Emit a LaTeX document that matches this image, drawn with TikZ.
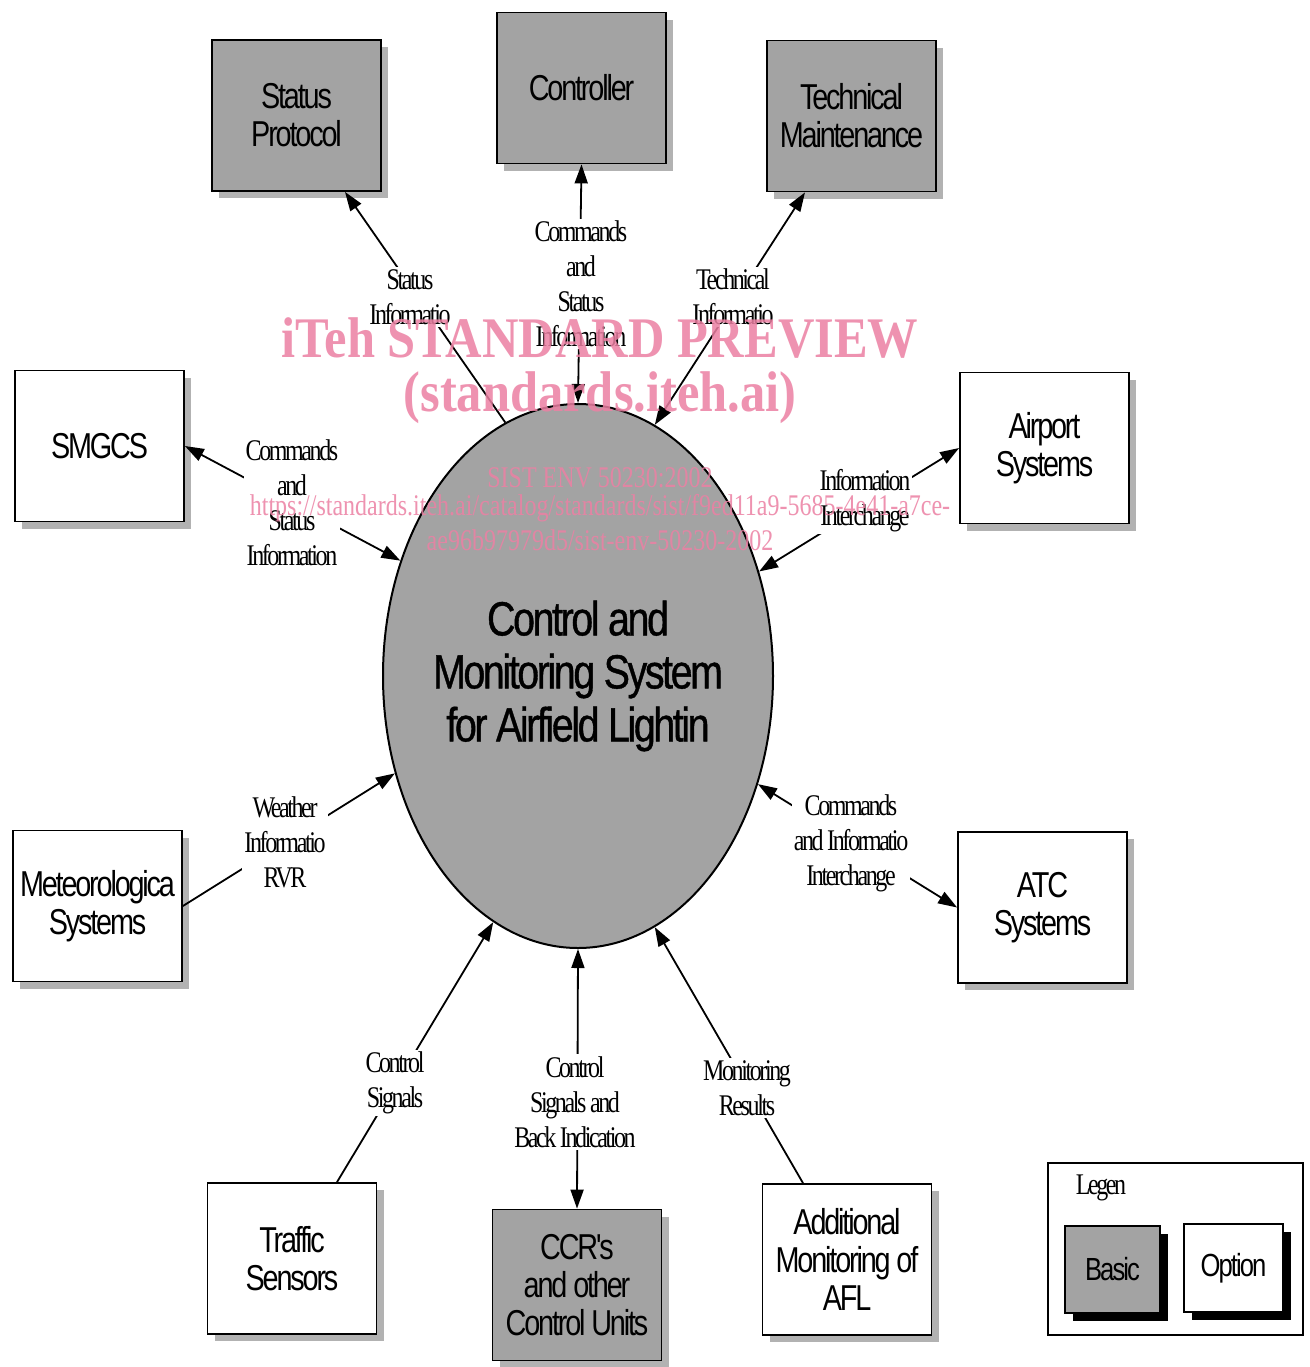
\documentclass[tikz,border=0pt]{standalone}
\usepackage{fontspec}
\usetikzlibrary{shapes.geometric,shadows,arrows.meta}
\newfontfamily\boxfont[FakeStretch=0.8,LetterSpace=-6]{Liberation Sans}
\newfontfamily\lblfont[FakeStretch=0.8,LetterSpace=-8]{Liberation Serif}
\newfontfamily\ellfont[FakeStretch=0.82,LetterSpace=-5,FakeBold=0.8]{Liberation Sans}
\newfontfamily\wmbig[FakeStretch=0.88]{Liberation Serif}
\newfontfamily\wmsmall[FakeStretch=0.8]{Liberation Serif}
\definecolor{wmpink}{RGB}{236,128,163}
\begin{document}
\begin{tikzpicture}[x=0.5pt,y=-0.5pt,
  sysbox/.style={draw, line width=0.9pt, minimum width=84.5pt, minimum height=75.5pt,
    inner sep=0pt, align=center, font=\boxfont\fontsize{18}{19}\selectfont,
    drop shadow={shadow xshift=3.5pt, shadow yshift=-3.5pt, fill=black!30, opacity=1}},
  basicfill/.style={fill=black!36},
  optfill/.style={fill=white},
  lbl/.style={fill=white, inner sep=1pt, align=center, font=\lblfont\fontsize{15}{17.5}\selectfont},
  conn/.style={line width=0.9pt},
  arr1/.style={-{Triangle[length=9.5pt,width=6.5pt]}},
  arr2/.style={{Triangle[length=9.5pt,width=6.5pt]}-{Triangle[length=9.5pt,width=6.5pt]}},
  wm/.style={text=wmpink, opacity=0.85, inner sep=0pt}
]
\fill[white] (0,0) rectangle (1310,1367);
\useasboundingbox (0,0) rectangle (1310,1367);

% central ellipse
\node[ellipse, draw, line width=1pt, fill=black!36, minimum width=195pt, minimum height=272pt,
  inner sep=0pt] (ell) at (578,676) {};
\node[align=center, inner sep=0pt, font=\ellfont\fontsize{24}{26.5}\selectfont] (ellt) at (ell.center)
  {Control and\\Monitoring System\\for Airfield Lightin};

% system boxes
\node[sysbox, basicfill] (sp)  at (296.5,115.5) {Status\\Protocol};
\node[sysbox, basicfill] (ctl) at (581.5,88) {Controller};
\node[sysbox, basicfill] (tm)  at (851.5,116) {Technical\\Maintenance};
\node[sysbox, optfill]   (smg) at (99.5,446) {SMGCS};
\node[sysbox, optfill]   (air) at (1044.5,448) {Airport\\Systems};
\node[sysbox, optfill]   (met) at (97.5,906) {Meteorologica\\Systems};
\node[sysbox, optfill]   (atc) at (1042.5,907.5) {ATC\\Systems};
\node[sysbox, optfill]   (trf) at (292,1258.5) {Traffic\\Sensors};
\node[sysbox, basicfill] (ccr) at (577,1285) {CCR's\\and other\\Control Units};
\node[sysbox, optfill]   (add) at (847,1259.5) {Additional\\Monitoring of\\AFL};

% connectors
\draw[conn,arr1] (ell.106) -- ([xshift=24.25pt]sp.south);
\draw[conn,arr2] (ell.north) -- (ctl.south);
\draw[conn,arr2] (ell.73.3) -- ([xshift=-23.25pt]tm.south);
\draw[conn,arr2] (ell.147.6) -- (smg.east);
\draw[conn,arr2] (ell.30.7) -- (air.west);
\draw[conn,arr1] (met.east) -- (ell.208.6);
\draw[conn,arr2] (ell.329.8) -- (atc.west);
\draw[conn,arr1] ([xshift=22.5pt]trf.north) -- (ell.251.1);
\draw[conn,arr2] (ell.south) -- (ccr.north);
\draw[conn,arr1] ([xshift=-22pt]add.north) -- (ell.287.2);

% connector labels
\node[lbl] (l1)  at (410,297) {Status\\Informatio};
\node[lbl] (l2)  at (581,284) {Commands\\and\\Status\\Information};
\node[lbl] (l3)  at (733,297) {Technical\\Informatio};
\node[lbl] (l4)  at (292,503) {Commands\\and\\Status\\Information};
\node[lbl] (l5)  at (865,501) {Information\\Interchange};
\node[lbl] (l6)  at (285,842) {Weather\\Informatio\\RVR};
\node[lbl] (l7)  at (851,843) {Commands\\and Informatio\\Interchange};
\node[lbl] (l8)  at (395,1083) {Control\\Signals};
\node[lbl] (l9)  at (575,1102) {Control\\Signals and\\Back Indication};
\node[lbl] (l10) at (747,1088) {Monitoring\\Results};

% legend
\node[draw, line width=0.8pt, minimum width=127.5pt, minimum height=86pt, inner sep=0pt] (leg) at (1175.5,1249) {};
\node[font=\lblfont\fontsize{15}{17}\selectfont, inner sep=0pt] (legt) at (1101,1188) {Legen};
\node[draw, line width=0.8pt, basicfill, minimum width=47.5pt, minimum height=43.5pt, inner sep=0pt,
  font=\boxfont\fontsize{16}{18}\selectfont,
  drop shadow={shadow xshift=4pt, shadow yshift=-4pt, fill=black, opacity=1}] (bas) at (1112.5,1269.5) {Basic};
\node[draw, line width=0.8pt, optfill, minimum width=49.5pt, minimum height=44pt, inner sep=0pt,
  font=\boxfont\fontsize{16}{18}\selectfont,
  drop shadow={shadow xshift=4pt, shadow yshift=-4pt, fill=black, opacity=1}] (opt) at (1233.5,1268) {Option};

% watermark
\node[wm, font=\wmbig\bfseries\fontsize{28.7}{30}\selectfont] (w1) at (600,338) {iTeh STANDARD PREVIEW};
\node[wm, font=\wmbig\bfseries\fontsize{28.7}{30}\selectfont] (w2) at (600,398) {(standards.iteh.ai)};
\node[wm, font=\wmsmall\fontsize{15}{16}\selectfont] (w3) at (600,478) {SIST ENV 50230:2002};
\node[wm, font=\wmsmall\fontsize{15}{16}\selectfont] (w4) at (600,508) {https://standards.iteh.ai/catalog/standards/sist/f9ed11a9-5685-4e41-a7ce-};
\node[wm, font=\wmsmall\fontsize{15}{16}\selectfont] (w5) at (600,540) {ae96b97979d5/sist-env-50230-2002};
\end{tikzpicture}
\end{document}
